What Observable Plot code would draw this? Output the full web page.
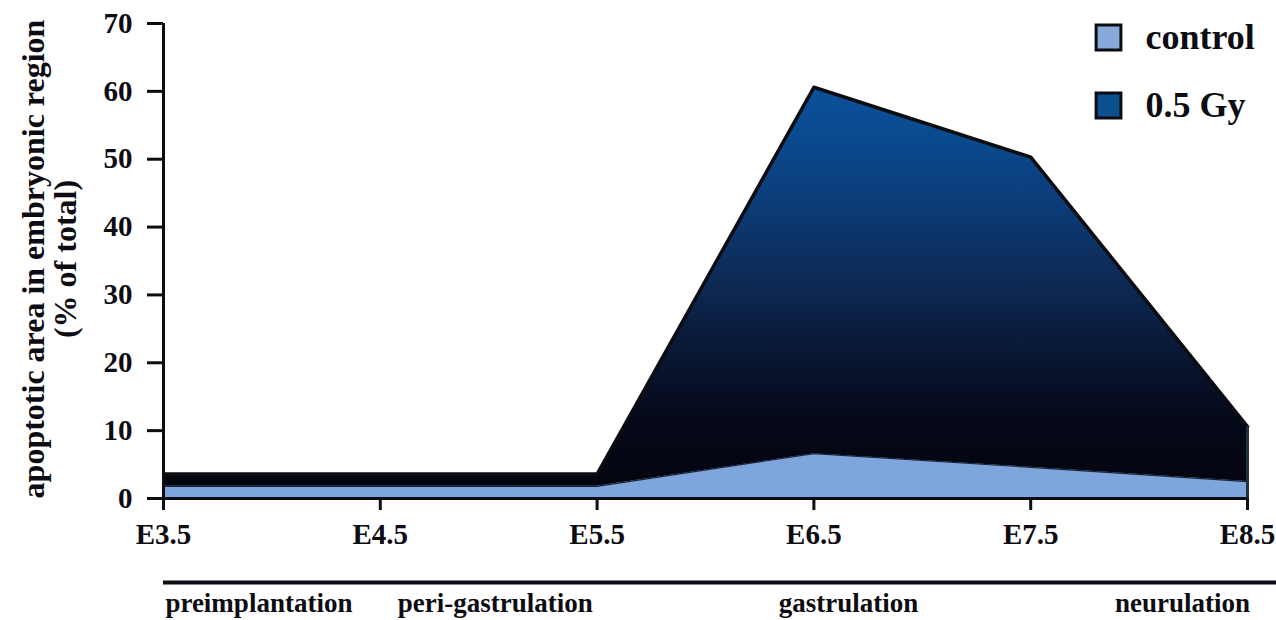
<!DOCTYPE html>
<html><head><meta charset="utf-8">
<script src="https://cdn.jsdelivr.net/npm/d3@7"></script>
<script src="https://cdn.jsdelivr.net/npm/@observablehq/plot@0.6"></script>
<style>
html,body{margin:0;padding:0;background:#fff;}
#chart svg{display:block;}
</style></head><body><div id="chart"></div>
<script>
const days = [3.5, 4.5, 5.5, 6.5, 7.5, 8.5];
const control = [1.8, 1.8, 1.8, 6.6, 4.6, 2.5];
const gy = [3.6, 3.6, 3.6, 60.6, 50.3, 10.6];
const yTicks = [0, 10, 20, 30, 40, 50, 60, 70];
const seriesNames = ["control", "0.5 Gy"];
const seriesSwatch = ["#88aadb", "#0b4f8e"];
const stageNames = ["preimplantation", "peri-gastrulation", "gastrulation", "neurulation"];
const stageDays = [3.94, 5.03, 6.66, 8.2];
const yLabel = "apoptotic area in embryonic region\n(% of total)";

const rows = days.map((d, i) => ({day: d, control: control[i], gy: gy[i]}));
const stages = stageNames.map((s, i) => ({name: s, day: stageDays[i]}));
const font = "'Liberation Serif', 'Times New Roman', serif";
const ink = "#0c0c12";

const legendMarks = seriesNames.flatMap((name, i) => [
  Plot.dot([name], {frameAnchor: "top-right", dx: -139, dy: 14 + 68 * i, symbol: "square", r: 14,
    fill: seriesSwatch[i], stroke: ink, strokeWidth: 3}),
  Plot.text([name], {frameAnchor: "top-right", dx: -102, dy: 14 + 68 * i, text: d => d,
    textAnchor: "start", lineAnchor: "middle", fontSize: 36, fontWeight: "bold", fontFamily: font, fill: ink})
]);

const chart = Plot.plot({
  width: 1276, height: 620,
  marginLeft: 163, marginRight: 29, marginTop: 23, marginBottom: 122,
  x: {type: "linear", domain: [3.5, 8.5]},
  y: {domain: [0, 70]},
  style: {fontFamily: font, background: "#fff", color: ink},
  marks: [
    Plot.areaY(rows, {x: "day", y: "gy", fill: "url(#gyGrad)"}),
    Plot.areaY(rows, {x: "day", y: "control", fill: "#7ea6dc"}),
    Plot.lineY(rows, {x: "day", y: "control", stroke: "#1c2438", strokeWidth: 1.2}),
    Plot.lineY(rows, {x: "day", y: "gy", stroke: ink, strokeWidth: 3.5, strokeLinejoin: "round"}),
    Plot.ruleX(rows.slice(-1), {x: "day", y1: 0, y2: "gy", stroke: "#1d3340", strokeWidth: 3}),
    Plot.axisY({ticks: yTicks, tickSize: 16, tickPadding: 15, fontSize: 29, fontWeight: "bold",
      label: null, strokeWidth: 3, color: ink}),
    Plot.axisX({ticks: days, tickFormat: d => "E" + d, tickSize: 12, tickPadding: 13, fontSize: 29,
      fontWeight: "bold", label: null, strokeWidth: 3, color: ink}),
    Plot.ruleX([3.5], {stroke: ink, strokeWidth: 3}),
    Plot.ruleY([0], {stroke: ink, strokeWidth: 3}),
    Plot.ruleY([0], {dy: 84, insetRight: -29, stroke: ink, strokeWidth: 4}),
    Plot.text(stages, {x: "day", text: "name", frameAnchor: "bottom", dy: 113, lineAnchor: "bottom",
      fontSize: 27, fontWeight: "bold", fill: ink}),
    Plot.text([yLabel], {frameAnchor: "left", dx: -114, dy: -2, rotate: -90, textAnchor: "middle", lineAnchor: "middle",
      lineHeight: 1.0, fontSize: 32, fontWeight: "bold", text: d => d, fill: ink}),
    ...legendMarks
  ]
});

const svg = d3.select(chart);
const grad = svg.insert("defs", ":first-child").append("linearGradient")
  .attr("id", "gyGrad").attr("x1", 0).attr("y1", 0).attr("x2", 0).attr("y2", 1);
[[0, "#0b519a"], [0.12, "#0a4a90"], [0.3, "#0c3a74"], [0.47, "#0d2a55"], [0.68, "#08142e"], [0.82, "#050818"], [1, "#03050c"]]
  .forEach(([o, c]) => grad.append("stop").attr("offset", o).attr("stop-color", c));

document.getElementById("chart").appendChild(chart);
</script>
</body></html>
